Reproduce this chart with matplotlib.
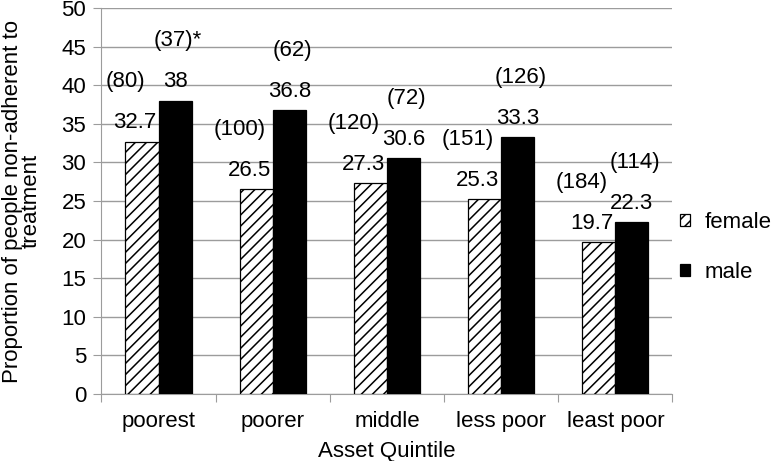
#!/usr/bin/env python3

import numpy as np
import matplotlib
matplotlib.use("Agg")
import matplotlib.pyplot as plt

# data
quintiles = ["poorest", "poorer", "middle", "less poor", "least poor"]
female_pct = [32.7, 26.5, 27.3, 25.3, 19.7]
male_pct = [38.0, 36.8, 30.6, 33.3, 22.3]
female_n = ["(80)", "(100)", "(120)", "(151)", "(184)"]
male_n = ["(37)*", "(62)", "(72)", "(126)", "(114)"]
y_ticks = [0, 5, 10, 15, 20, 25, 30, 35, 40, 45, 50]

FS = 16
GREY = '#9c9c9c'


def main() -> int:
    plt.rcParams['font.family'] = ['Liberation Sans', 'DejaVu Sans']
    plt.rcParams['hatch.linewidth'] = 1.1

    fig = plt.figure(figsize=(7.71, 4.61), dpi=100, facecolor='w')
    ax = fig.add_axes([0.1316, 0.1453, 0.7406, 0.8373])

    x = np.arange(len(quintiles))
    w = 0.29

    ax.bar(x - w / 2, female_pct, w, color='white', edgecolor='black',
           hatch='///', linewidth=0.9, label='female', zorder=3)
    ax.bar(x + w / 2, male_pct, w, color='black', edgecolor='black',
           linewidth=0.9, label='male', zorder=3)

    # value labels, sample sizes above them
    for i in range(len(quintiles)):
        ax.annotate(f"{female_pct[i]:g}", (x[i] - w / 2, female_pct[i]),
                    xytext=(-5, 9.5), textcoords='offset points',
                    ha='center', va='baseline', fontsize=FS)
        ax.annotate(female_n[i], (x[i] - w / 2, female_pct[i]),
                    xytext=(-12, 39), textcoords='offset points',
                    ha='center', va='baseline', fontsize=FS)
        ax.annotate(f"{male_pct[i]:g}", (x[i] + w / 2, male_pct[i]),
                    xytext=(0, 9.5), textcoords='offset points',
                    ha='center', va='baseline', fontsize=FS)
        ax.annotate(male_n[i], (x[i] + w / 2, male_pct[i]),
                    xytext=(2, 39), textcoords='offset points',
                    ha='center', va='baseline', fontsize=FS)

    ax.set_ylim(0, 50)
    ax.set_xlim(-0.5, len(quintiles) - 0.5)
    ax.set_yticks(y_ticks)
    ax.yaxis.grid(True, color=GREY, linewidth=1.0, zorder=0)
    ax.set_axisbelow(True)

    # ticks between groups, labels centred under each group
    ax.set_xticks(np.arange(len(quintiles) + 1) - 0.5)
    ax.set_xticklabels([])
    ax.set_xticks(x, minor=True)
    ax.set_xticklabels(quintiles, minor=True, fontsize=FS)
    ax.tick_params(axis='x', which='minor', length=0, pad=12)
    ax.tick_params(axis='x', which='major', length=6, color=GREY)
    ax.tick_params(axis='y', length=6, color=GREY, labelsize=FS, pad=5)

    for side in ['top', 'right']:
        ax.spines[side].set_visible(False)
    for side in ['left', 'bottom']:
        ax.spines[side].set_color(GREY)

    ax.set_xlabel('Asset Quintile', fontsize=FS)
    ax.xaxis.label.set_va('baseline')
    ax.xaxis.set_label_coords(0.5, -0.163)
    ax.set_ylabel('Proportion of people non-adherent to\ntreatment',
                  fontsize=FS, linespacing=0.9)
    ax.yaxis.set_label_coords(-0.104, 0.5)

    ax.legend(loc='center left', bbox_to_anchor=(1.0, 0.38), frameon=False,
              fontsize=FS, handlelength=0.45, handleheight=0.45,
              handletextpad=0.65, labelspacing=1.3, borderaxespad=0,
              borderpad=0.35)

    fig.savefig('out.png', dpi=100)
    return 0


if __name__ == "__main__":
    main()
